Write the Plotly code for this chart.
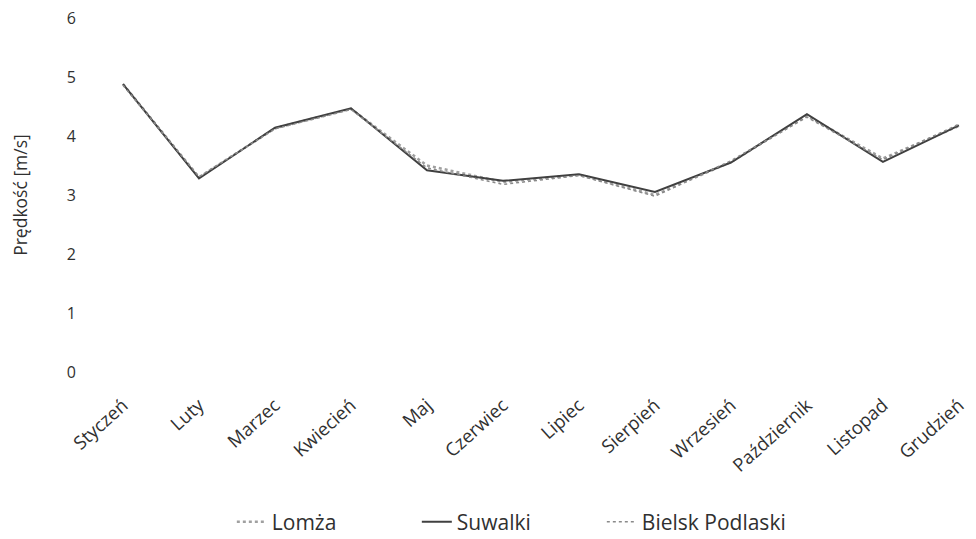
import plotly.graph_objects as go

months = ["Styczeń", "Luty", "Marzec", "Kwiecień", "Maj", "Czerwiec", "Lipiec",
          "Sierpień", "Wrzesień", "Październik", "Listopad", "Grudzień"]
lomza = [4.88, 3.30, 4.13, 4.46, 3.50, 3.22, 3.34, 3.00, 3.56, 4.34, 3.62, 4.17]
suwalki = [4.88, 3.28, 4.14, 4.47, 3.42, 3.24, 3.35, 3.05, 3.55, 4.37, 3.56, 4.18]
bielsk = [4.86, 3.31, 4.12, 4.45, 3.46, 3.18, 3.33, 2.98, 3.58, 4.32, 3.60, 4.20]
yticks = [0, 1, 2, 3, 4, 5, 6]

font = "Open Sans, Liberation Sans, sans-serif"
fig = go.Figure()
fig.add_trace(go.Scatter(x=months, y=lomza, name="Lomża", mode="lines",
                         line=dict(color="#a0a0a0", width=2.5, dash="dot")))
fig.add_trace(go.Scatter(x=months, y=suwalki, name="Suwalki", mode="lines",
                         line=dict(color="#404040", width=2)))
fig.add_trace(go.Scatter(x=months, y=bielsk, name="Bielsk Podlaski", mode="lines",
                         line=dict(color="#8a8a8a", width=1.5, dash="dot")))

fig.update_layout(
    width=976, height=539,
    margin=dict(l=77, r=0, t=10, b=175, autoexpand=False),
    plot_bgcolor="white", paper_bgcolor="white",
    font=dict(family=font, size=16, color="#303030"),
    showlegend=True,
    legend=dict(orientation="h", x=0.472, xanchor="center",
                y=-0.424, yanchor="middle", font=dict(size=21),
                entrywidth=140, tracegroupgap=0),
    xaxis=dict(range=[-0.5, 11.33], showgrid=False, showline=False, zeroline=False,
               tickangle=-42, ticks="", tickfont=dict(size=18.5), automargin=False,
               ticklabelstandoff=18, ticklabeloverflow="allow"),
    yaxis=dict(range=[0, 6], tickvals=yticks, showgrid=False, showline=False,
               zeroline=False, ticks="", tickfont=dict(size=16), automargin=False,
               ticklabelstandoff=8, ticklabeloverflow="allow",
               title=dict(text="Prędkość [m/s]", font=dict(size=17.5), standoff=52)),
)
fig.write_html("out.html")
